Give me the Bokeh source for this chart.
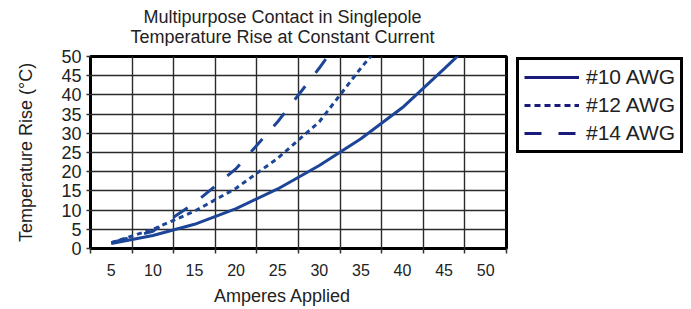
from bokeh.plotting import figure
from bokeh.models import Range1d, FixedTicker, Legend, LegendItem, Label
from bokeh.layouts import row, column
from bokeh.embed import file_html
from bokeh.resources import INLINE

# ---- data ----
amperes = [5, 10, 15, 20, 25, 30, 35, 40, 45, 50]
awg10 = [1.3, 3.4, 6.3, 10.4, 15.5, 21.6, 28.6, 36.7, 46.8, 57.0]
awg12 = [1.5, 5.0, 9.7, 15.7, 23.5, 33.0, 47.0, 60.0]
awg14 = [1.5, 4.5, 11.8, 20.8, 33.0, 47.0, 62.0]
series_names = ["#10 AWG", "#12 AWG", "#14 AWG"]
x_ticks = [5, 10, 15, 20, 25, 30, 35, 40, 45, 50]
x_grid = [2.5, 7.5, 12.5, 17.5, 22.5, 27.5, 32.5, 37.5, 42.5, 47.5, 52.5]
y_ticks = [0, 5, 10, 15, 20, 25, 30, 35, 40, 45, 50]
title1 = "Multipurpose Contact in Singlepole"
title2 = "Temperature Rise at Constant Current"
x_title = "Amperes Applied"
y_title = "Temperature Rise (°C)"

FONT = "Liberation Sans"
TXT = "#222222"
LINE = "#1c4598"
LEG = "#1a1a7c"

# layout sizes (pixels)
LEFT_W = 510
TOP_H = 46
MAIN_H = 236
BOT_H = 26
LEG_W = 180
TOTAL_H = TOP_H + MAIN_H + BOT_H
FRAME_L, FRAME_R = 90, 506


def text_panel(w, h):
    # frame of a plot in a column is aligned with the chart frame (90..506 px)
    f = figure(width=w, height=h, output_backend="svg", toolbar_location=None,
               x_range=Range1d(FRAME_L, FRAME_R), y_range=Range1d(h, 0),
               x_axis_type=None, y_axis_type=None, min_border=0,
               min_border_left=FRAME_L, min_border_right=w - FRAME_R)
    f.outline_line_color = None
    f.background_fill_color = "white"
    f.border_fill_color = "white"
    return f


# ---- title panel ----
pt = text_panel(LEFT_W, TOP_H)
for txt, yy in ((title1, 16), (title2, 36)):
    pt.add_layout(Label(x=282, y=yy, text=txt, text_align="center", text_baseline="middle",
                        text_font=FONT, text_font_size="18px", text_color=TXT))

# ---- main chart ----
p = figure(width=LEFT_W, height=MAIN_H, output_backend="svg", toolbar_location=None,
           x_range=Range1d(2.5, 52.5), y_range=Range1d(0, 50),
           min_border_left=FRAME_L, min_border_right=LEFT_W - FRAME_R, min_border_top=10,
           min_border_bottom=34)
p.outline_line_color = "black"
p.outline_line_width = 3
p.background_fill_color = "white"
p.border_fill_color = "white"

p.xgrid.ticker = FixedTicker(ticks=x_grid)
p.ygrid.ticker = FixedTicker(ticks=y_ticks)
for g in (p.xgrid, p.ygrid):
    g.grid_line_color = "#2a2a2a"
    g.grid_line_width = 1.4

xa = p.xaxis[0]
xa.ticker = FixedTicker(ticks=x_ticks, minor_ticks=x_grid)
xa.major_tick_line_color = None
xa.major_tick_out = 0
xa.minor_tick_line_color = "#333333"
xa.minor_tick_line_width = 1.5
xa.minor_tick_out = 5
xa.minor_tick_in = 0
xa.axis_line_color = None
xa.major_label_text_font = FONT
xa.major_label_text_font_size = "16px"
xa.major_label_text_color = TXT
xa.major_label_standoff = 10

ya = p.yaxis[0]
ya.ticker = FixedTicker(ticks=y_ticks)
ya.minor_tick_line_color = None
ya.major_tick_line_color = "#333333"
ya.major_tick_line_width = 1.5
ya.major_tick_out = 4
ya.major_tick_in = 0
ya.axis_line_color = None
ya.major_label_text_font = FONT
ya.major_label_text_font_size = "18px"
ya.major_label_text_color = TXT
ya.major_label_standoff = 5
ya.axis_label = y_title
ya.axis_label_text_font = FONT
ya.axis_label_text_font_size = "18px"
ya.axis_label_text_font_style = "normal"
ya.axis_label_text_color = TXT
ya.axis_label_standoff = 22

p.line(amperes[:len(awg10)], awg10, line_color=LINE, line_width=3)
p.line(amperes[:len(awg12)], awg12, line_color=LINE, line_width=3, line_dash="5 4")
p.line(amperes[:len(awg14)], awg14, line_color=LINE, line_width=3, line_dash="17 17")

# ---- x axis title panel ----
pb = text_panel(LEFT_W, BOT_H)
pb.add_layout(Label(x=282, y=13, text=x_title, text_align="center", text_baseline="middle",
                    text_font=FONT, text_font_size="18px", text_color=TXT))

# ---- legend panel ----
pl = figure(width=LEG_W, height=TOTAL_H, output_backend="svg", toolbar_location=None,
            x_range=Range1d(0, 1), y_range=Range1d(0, 1),
            x_axis_type=None, y_axis_type=None, min_border=0)
pl.outline_line_color = None
pl.background_fill_color = "white"
pl.border_fill_color = "white"
# key proxies: single-point lines draw nothing in the panel
l10 = pl.line(amperes[:1], awg10[:1], line_color=LEG, line_width=3)
l12 = pl.line(amperes[:1], awg12[:1], line_color=LEG, line_width=3, line_dash="6 4")
l14 = pl.line(amperes[:1], awg14[:1], line_color=LEG, line_width=3, line_dash="17 17")

legend = Legend(items=[LegendItem(label=series_names[0], renderers=[l10]),
                       LegendItem(label=series_names[1], renderers=[l12]),
                       LegendItem(label=series_names[2], renderers=[l14])],
                location=(6, TOTAL_H - 153))
legend.border_line_color = "black"
legend.border_line_alpha = 1.0
legend.border_line_width = 3
legend.background_fill_color = "white"
legend.background_fill_alpha = 1.0
legend.glyph_width = 55
legend.glyph_height = 20
legend.label_height = 20
legend.spacing = 4
legend.padding = 5
legend.margin = 0
legend.label_standoff = 7
legend.label_text_font = FONT
legend.label_text_font_size = "21px"
legend.label_text_color = TXT
pl.add_layout(legend, "center")

layout = row(column(pt, p, pb, spacing=0), pl, spacing=0)

open("out.html", "w").write(file_html(layout, INLINE))
